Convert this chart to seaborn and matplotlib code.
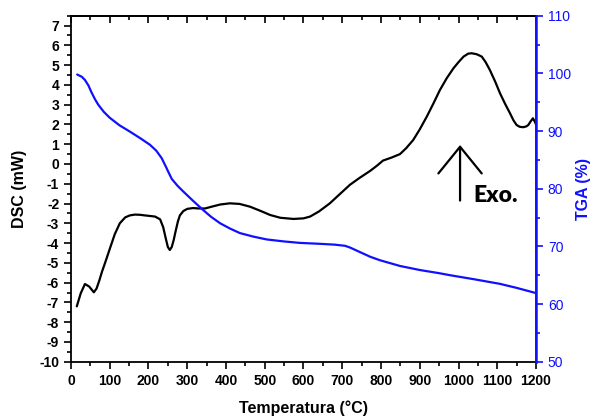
import matplotlib
matplotlib.use("Agg")
import matplotlib.pyplot as plt
from matplotlib.ticker import MultipleLocator
import seaborn as sns
import pandas as pd

# DSC signal (mW) versus temperature (°C)
dsc_temp = [15, 25, 36, 47, 59, 66, 73, 80, 88, 100, 113, 126, 140, 152, 165,
            178, 190, 204, 217, 230, 238, 245, 250, 255, 260, 265, 270, 276,
            281, 290, 300, 315, 330, 346, 365, 385, 410, 435, 462, 490, 514,
            540, 574, 600, 617, 640, 668, 695, 720, 745, 772, 790, 805, 828,
            849, 865, 883, 900, 918, 935, 952, 970, 987, 1000, 1013, 1025,
            1034, 1047, 1060, 1070, 1081, 1095, 1107, 1120, 1133, 1142, 1150,
            1158, 1167, 1175, 1180, 1186, 1192, 1197, 1200]
dsc_mw = [-7.2, -6.55, -6.07, -6.2, -6.49, -6.3, -5.9, -5.45, -5.0, -4.3,
          -3.55, -3.0, -2.7, -2.6, -2.56, -2.57, -2.6, -2.63, -2.66, -2.8,
          -3.2, -3.8, -4.2, -4.35, -4.2, -3.85, -3.4, -2.9, -2.6, -2.38,
          -2.27, -2.23, -2.25, -2.25, -2.15, -2.05, -1.99, -2.02, -2.16,
          -2.38, -2.58, -2.72, -2.78, -2.75, -2.66, -2.4, -1.99, -1.5, -1.05,
          -0.7, -0.35, -0.08, 0.17, 0.33, 0.5, 0.8, 1.21, 1.75, 2.39, 3.05,
          3.74, 4.35, 4.84, 5.15, 5.43, 5.58, 5.6, 5.55, 5.43, 5.15, 4.75,
          4.15, 3.58, 3.05, 2.56, 2.2, 1.97, 1.88, 1.86, 1.9, 1.97, 2.15,
          2.31, 2.14, 2.0]

# TGA mass (%) versus temperature (°C)
tga_temp = [16, 28, 36, 45, 53, 62, 70, 85, 100, 125, 152, 180, 204, 220, 234,
            245, 252, 260, 275, 290, 315, 341, 362, 385, 410, 436, 470, 505,
            550, 591, 640, 680, 707, 720, 746, 772, 797, 823, 849, 900, 950,
            978, 1040, 1107, 1150, 1200]
tga_pct = [99.8, 99.4, 98.85, 97.9, 96.7, 95.5, 94.6, 93.3, 92.3, 91.0, 89.9,
           88.7, 87.6, 86.6, 85.3, 83.8, 82.8, 81.7, 80.5, 79.5, 77.9, 76.3,
           75.1, 74.0, 73.1, 72.3, 71.7, 71.2, 70.85, 70.6, 70.45, 70.3, 70.1,
           69.8, 69.0, 68.2, 67.6, 67.1, 66.6, 65.9, 65.35, 65.0, 64.3, 63.5,
           62.8, 61.9]

x_ticks = list(range(0, 1201, 100))
dsc_ticks = list(range(-10, 8))
tga_ticks = list(range(50, 111, 10))

dsc_df = pd.DataFrame({"Temperatura": dsc_temp, "DSC": dsc_mw})
tga_df = pd.DataFrame({"Temperatura": tga_temp, "TGA": tga_pct})

sns.set_theme(style="ticks")
plt.rcParams["font.family"] = ["Liberation Sans", "DejaVu Sans"]
plt.rcParams["axes.unicode_minus"] = False
plt.rcParams["text.color"] = "black"
plt.rcParams["axes.labelcolor"] = "black"

BLUE = "#1010ff"

fig = plt.figure(figsize=(5.93, 4.17), dpi=100)
ax = fig.add_axes([0.1197, 0.1326, 0.9039 - 0.1197, 0.9624 - 0.1326])
ax2 = ax.twinx()

sns.lineplot(data=dsc_df, x="Temperatura", y="DSC", ax=ax, color="black",
             linewidth=1.6, sort=False, estimator=None)
sns.lineplot(data=tga_df, x="Temperatura", y="TGA", ax=ax2, color=BLUE,
             linewidth=1.6, sort=False, estimator=None)

ax.set_xlim(0, 1200)
ax.set_ylim(-10, 7.5)
ax2.set_ylim(50, 110)

ax.set_xticks(x_ticks)
ax.xaxis.set_minor_locator(MultipleLocator(50))
ax.set_yticks(dsc_ticks)
ax.yaxis.set_minor_locator(MultipleLocator(0.5))
ax2.set_yticks(tga_ticks)
ax2.yaxis.set_minor_locator(MultipleLocator(5))

for sp in ["left", "bottom", "top"]:
    ax.spines[sp].set_linewidth(1.3)
    ax.spines[sp].set_color("black")
ax2.spines["right"].set_color(BLUE)
ax2.spines["right"].set_linewidth(1.8)
for sp in ["left", "bottom", "top"]:
    ax2.spines[sp].set_visible(False)

ax.tick_params(axis="both", which="major", direction="out", length=5,
               width=1.2, colors="black", labelsize=10)
ax.tick_params(axis="both", which="minor", direction="out", length=3,
               width=1.2, colors="black")
for lab in ax.get_xticklabels() + ax.get_yticklabels():
    lab.set_fontweight("bold")

ax2.tick_params(axis="y", which="major", direction="out", length=5,
                width=1.2, colors=BLUE, labelsize=10)
ax2.tick_params(axis="y", which="minor", direction="out", length=3,
                width=1.2, colors=BLUE)

# inward ticks along the top edge
top = ax.secondary_xaxis("top")
top.set_xticks(x_ticks)
top.xaxis.set_minor_locator(MultipleLocator(50))
top.tick_params(which="major", direction="in", length=5, width=1.2,
                labeltop=False, colors="black")
top.tick_params(which="minor", direction="in", length=3, width=1.2,
                colors="black")
top.spines["top"].set_linewidth(1.3)
top.spines["top"].set_color("black")

ax.set_xlabel("Temperatura (°C)", fontsize=11.5, fontweight="bold",
              labelpad=9, color="black")
ax.set_ylabel("DSC (mW)", fontsize=11.5, fontweight="bold", labelpad=9,
              color="black")
ax2.set_ylabel("TGA (%)", fontsize=11.5, fontweight="bold", color=BLUE,
               labelpad=4)

# exothermic direction marker
ax.annotate("", xy=(1004, 0.96), xytext=(1004, -1.85),
            arrowprops=dict(arrowstyle="->, head_length=1.6, head_width=1.3",
                            color="black", lw=1.6, shrinkA=0, shrinkB=0))
ax.text(1038, -1.9, "Exo.", fontsize=16.5, fontweight="heavy",
        family=["Lato", "DejaVu Sans"], color="black", ha="left",
        va="baseline")

fig.savefig("out.png", dpi=100)
